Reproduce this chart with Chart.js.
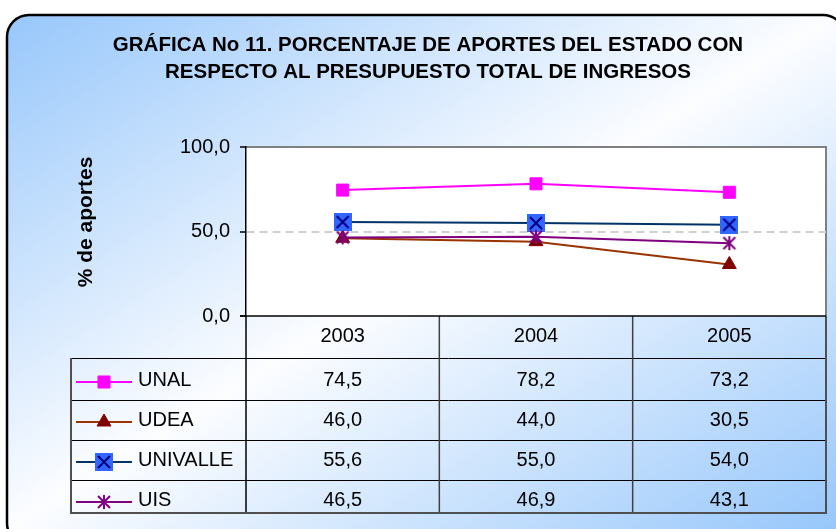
<!DOCTYPE html>
<html>
<head>
<meta charset="utf-8">
<script src="https://cdn.jsdelivr.net/npm/chart.js@4.4.0/dist/chart.umd.min.js"></script>
<style>
  body { margin: 0; background: #fff; }
  canvas { display: block; }
</style>
</head>
<body>
<canvas id="aportesChart" width="836" height="529"></canvas>
<script>
// data
const years = ['2003', '2004', '2005'];
const seriesNames = ['UNAL', 'UDEA', 'UNIVALLE', 'UIS'];
const unal = [74.5, 78.2, 73.2];
const udea = [46.0, 44.0, 30.5];
const univalle = [55.6, 55.0, 54.0];
const uis = [46.5, 46.9, 43.1];
const yTicks = [0, 50, 100];

const titleLines = [
  'GRÁFICA No 11. PORCENTAJE DE APORTES DEL ESTADO CON',
  'RESPECTO AL PRESUPUESTO TOTAL DE INGRESOS'
];
const yTitle = '% de aportes';
const FONT = '"Liberation Sans", Arial, sans-serif';

const fmt = v => v.toFixed(1).replace('.', ',');

// blue square with an X (Excel marker)
function squareXMarker() {
  const c = document.createElement('canvas');
  c.width = 18; c.height = 18;
  const g = c.getContext('2d');
  g.fillStyle = '#3366ff';
  g.fillRect(0, 0, 18, 18);
  g.strokeStyle = '#000080';
  g.lineWidth = 2;
  g.beginPath();
  g.moveTo(3, 3); g.lineTo(15, 15);
  g.moveTo(15, 3); g.lineTo(3, 15);
  g.stroke();
  return c;
}

// asterisk marker
function asteriskMarker() {
  const c = document.createElement('canvas');
  c.width = 16; c.height = 16;
  const g = c.getContext('2d');
  g.strokeStyle = '#800080';
  g.lineWidth = 2;
  g.beginPath();
  g.moveTo(2, 2); g.lineTo(14, 14);
  g.moveTo(14, 2); g.lineTo(2, 14);
  g.moveTo(8, 1); g.lineTo(8, 15);
  g.stroke();
  return c;
}

const datasets = [
  { label: seriesNames[0], data: unal, borderColor: '#ff00ff', pointStyle: 'rect', pointRadius: 8.5,
    pointBackgroundColor: '#ff00ff', pointBorderColor: '#ff00ff', order: 3 },
  { label: seriesNames[1], data: udea, borderColor: '#993300', pointStyle: 'triangle', pointRadius: 8,
    pointBackgroundColor: '#800000', pointBorderColor: '#800000', order: 2 },
  { label: seriesNames[2], data: univalle, borderColor: '#003366', pointStyle: squareXMarker(), pointRadius: 9,
    pointBackgroundColor: '#3366ff', pointBorderColor: '#000080', order: 1 },
  { label: seriesNames[3], data: uis, borderColor: '#800080', pointStyle: asteriskMarker(), pointRadius: 8,
    pointBackgroundColor: '#800080', pointBorderColor: '#800080', order: 0 }
];
datasets.forEach(d => {
  d.borderWidth = 2;
  d.pointBorderWidth = 1;
  d.fill = false;
  d.tension = 0;
});

// background, frame, titles and white plot area
const backdrop = {
  id: 'backdrop',
  beforeDraw(chart) {
    const { ctx, chartArea: a } = chart;
    ctx.save();
    ctx.fillStyle = '#fff';
    ctx.fillRect(0, 0, chart.width, chart.height);

    ctx.beginPath();
    ctx.roundRect(7, 15, 838, 530, 22);
    ctx.save();
    ctx.clip();
    ctx.translate(7, 15);
    ctx.scale(829, 514);
    const grad = ctx.createLinearGradient(0, 0, 1, 1);
    grad.addColorStop(0, '#97c7fb');
    grad.addColorStop(0.5, '#fcfdff');
    grad.addColorStop(1, '#97c7fb');
    ctx.fillStyle = grad;
    ctx.fillRect(0, 0, 1, 1);
    ctx.restore();
    ctx.lineWidth = 2.5;
    ctx.strokeStyle = '#000';
    ctx.stroke();

    ctx.fillStyle = '#000';
    ctx.font = 'bold 20.5px ' + FONT;
    ctx.textAlign = 'center';
    ctx.textBaseline = 'alphabetic';
    ctx.fillText(titleLines[0], 428, 51);
    ctx.fillText(titleLines[1], 428, 78);

    ctx.translate(86, 222);
    ctx.rotate(-Math.PI / 2);
    ctx.font = 'bold 21px ' + FONT;
    ctx.textBaseline = 'middle';
    ctx.fillText(yTitle, 0, 0);
    ctx.restore();

    ctx.fillStyle = '#fff';
    ctx.fillRect(a.left, a.top, a.right - a.left, a.bottom - a.top);
    ctx.strokeStyle = '#808080';
    ctx.lineWidth = 2;
    ctx.beginPath();
    ctx.moveTo(a.left, a.top);
    ctx.lineTo(a.right, a.top);
    ctx.lineTo(a.right, a.bottom);
    ctx.stroke();
  }
};

function drawKey(ctx, ds, x, y) {
  ctx.strokeStyle = ds.borderColor;
  ctx.lineWidth = 2;
  ctx.beginPath();
  ctx.moveTo(x - 28, y);
  ctx.lineTo(x + 28, y);
  ctx.stroke();
  if (ds.pointStyle instanceof HTMLCanvasElement) {
    const s = ds.pointStyle;
    ctx.drawImage(s, Math.round(x - s.width / 2), Math.round(y - s.height / 2));
  } else {
    ctx.fillStyle = ds.pointBackgroundColor;
    ctx.strokeStyle = ds.pointBorderColor;
    ctx.lineWidth = 1;
    Chart.helpers.drawPoint(ctx, { pointStyle: ds.pointStyle, radius: ds.pointRadius, rotation: 0, borderWidth: 1 }, x, y);
  }
}

// data table under the plot (Excel style)
const dataTable = {
  id: 'dataTable',
  afterDraw(chart) {
    const { ctx, chartArea: a } = chart;
    const xs = chart.scales.x;
    const colW = (a.right - a.left) / years.length;
    const headBottom = 358;
    const rowLines = [358, 400, 440, 480];
    const tableBottom = 513;
    const tableLeft = 71;
    ctx.save();

    // row lines
    ctx.strokeStyle = '#000';
    ctx.lineWidth = 1;
    rowLines.forEach(y => {
      ctx.beginPath();
      ctx.moveTo(tableLeft, y + 0.5);
      ctx.lineTo(a.right, y + 0.5);
      ctx.stroke();
    });

    // column lines
    ctx.strokeStyle = '#404040';
    ctx.lineWidth = 1.5;
    for (let i = 1; i < years.length; i++) {
      const x = a.left + colW * i;
      ctx.beginPath();
      ctx.moveTo(x, a.bottom);
      ctx.lineTo(x, tableBottom);
      ctx.stroke();
    }
    ctx.strokeStyle = '#000';
    ctx.beginPath();
    ctx.moveTo(a.left, a.bottom);
    ctx.lineTo(a.left, tableBottom);
    ctx.stroke();

    // outer border
    ctx.strokeStyle = '#505050';
    ctx.lineWidth = 2;
    ctx.beginPath();
    ctx.moveTo(tableLeft, headBottom);
    ctx.lineTo(tableLeft, tableBottom);
    ctx.lineTo(a.right, tableBottom);
    ctx.lineTo(a.right, a.bottom);
    ctx.stroke();

    // axis line under plot
    ctx.strokeStyle = '#000';
    ctx.lineWidth = 1.5;
    ctx.beginPath();
    ctx.moveTo(a.left - 6, a.bottom);
    ctx.lineTo(a.right, a.bottom);
    ctx.stroke();

    ctx.fillStyle = '#000';
    ctx.font = '20px ' + FONT;
    ctx.textBaseline = 'middle';
    ctx.textAlign = 'center';
    years.forEach((yr, i) => ctx.fillText(yr, xs.getPixelForValue(i), 336));

    datasets.forEach((ds, r) => {
      const cy = 380 + 40 * r;
      ds.data.forEach((v, i) => {
        ctx.fillStyle = '#000';
        ctx.textAlign = 'center';
        ctx.fillText(fmt(v), xs.getPixelForValue(i), cy);
      });
      ctx.textAlign = 'left';
      ctx.fillText(ds.label, 138, cy);
      drawKey(ctx, ds, 104, cy + 2);
    });
    ctx.restore();
  }
};

const chart = new Chart(document.getElementById('aportesChart'), {
  type: 'line',
  data: { labels: years, datasets: datasets },
  options: {
    responsive: false,
    animation: false,
    devicePixelRatio: 1,
    layout: { padding: { left: 0, top: 147, right: 7, bottom: 213 } },
    plugins: {
      legend: { display: false },
      title: { display: false },
      tooltip: { enabled: false }
    },
    scales: {
      x: { type: 'category', display: false, offset: true },
      y: {
        min: 0,
        max: 100,
        afterBuildTicks: scale => { scale.ticks = yTicks.map(v => ({ value: v })); },
        afterFit: scale => { scale.width = 246; },
        ticks: {
          color: '#000',
          padding: 10,
          font: { family: FONT, size: 20 },
          callback: v => fmt(v)
        },
        grid: {
          color: c => (c.tick && c.tick.value === 50 ? '#d0d0d0' : 'rgba(0,0,0,0)'),
          lineWidth: 2,
          tickColor: '#000',
          tickWidth: 1.5,
          tickLength: 6,
          tickBorderDash: [0, 0]
        },
        border: { color: '#000', width: 1.5, dash: [8, 5] }
      }
    }
  },
  plugins: [backdrop, dataTable]
});
</script>
</body>
</html>
